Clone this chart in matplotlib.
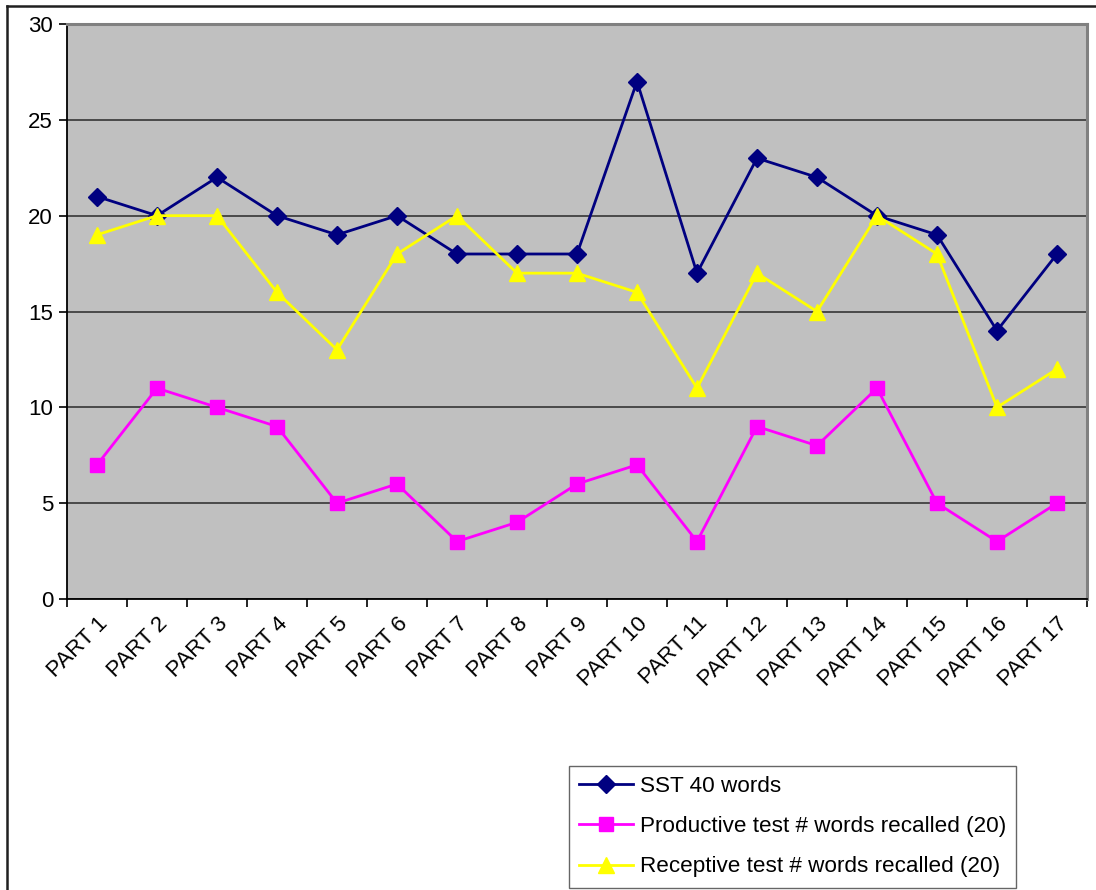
import matplotlib.pyplot as plt
from matplotlib.lines import Line2D

# Werte pro Teil
parts = [f"PART {i}" for i in range(1, 18)]
sst = [21, 20, 22, 20, 19, 20, 18, 18, 18, 27, 17, 23, 22, 20, 19, 14, 18]
productive = [7, 11, 10, 9, 5, 6, 3, 4, 6, 7, 3, 9, 8, 11, 5, 3, 5]
receptive = [19, 20, 20, 16, 13, 18, 20, 17, 17, 16, 11, 17, 15, 20, 18, 10, 12]

plt.rcParams['font.family'] = ['Liberation Sans', 'DejaVu Sans']

fig = plt.figure(figsize=(10.96, 8.90), dpi=100)
ax = fig.add_axes([67 / 1096, 1 - 599 / 890, (1087 - 67) / 1096, (599 - 24) / 890])
ax.set_facecolor('#C0C0C0')

x = list(range(len(parts)))
ax.plot(x, sst, color='#000080', lw=2.0, marker='D', ms=9, label='SST 40 words', zorder=3)
ax.plot(x, productive, color='#FF00FF', lw=2.0, marker='s', ms=10.5,
        label='Productive test # words recalled (20)', zorder=3)
ax.plot(x, receptive, color='#FFFF00', lw=2.0, marker='^', ms=11,
        label='Receptive test # words recalled (20)', zorder=3)

ax.set_xlim(-0.5, len(parts) - 0.5)
ax.set_ylim(0, 30)
ax.set_yticks(range(0, 31, 5))
ax.yaxis.grid(True, color='#404040', lw=1.3)
ax.set_axisbelow(True)

# Striche an den Grenzen, Beschriftung in der Mitte
ax.set_xticks([i - 0.5 for i in range(len(parts) + 1)])
ax.set_xticklabels([])
ax.set_xticks(x, minor=True)
ax.set_xticklabels(parts, minor=True, rotation=45, ha='right', rotation_mode='anchor', fontsize=16)
ax.tick_params(axis='x', which='minor', length=0, pad=10)
ax.tick_params(axis='x', which='major', length=6, width=1.2, direction='out')
ax.tick_params(axis='y', length=6, width=1.2, direction='out', labelsize=16, pad=4)

for side in ['left', 'bottom']:
    ax.spines[side].set_color('black')
    ax.spines[side].set_linewidth(1.3)
for side in ['top', 'right']:
    ax.spines[side].set_color('#808080')
    ax.spines[side].set_linewidth(2.2)

# Rahmen der Grafik (nur links und oben sichtbar)
fig.add_artist(Line2D([7 / 1096, 7 / 1096], [0, 1 - 6 / 890], transform=fig.transFigure,
                      color='#202020', lw=1.8))
fig.add_artist(Line2D([7 / 1096, 1], [1 - 6 / 890, 1 - 6 / 890], transform=fig.transFigure,
                      color='#202020', lw=1.8))

leg = ax.legend(loc='upper left', bbox_to_anchor=(569 / 1096, 1 - 766 / 890),
                bbox_transform=fig.transFigure, fontsize=16.2, frameon=True, fancybox=False,
                edgecolor='#404040', handlelength=2.4, handletextpad=0.3,
                borderpad=0.45, labelspacing=0.85, borderaxespad=0)
leg.get_frame().set_linewidth(1.0)

fig.savefig('out.png', dpi=100)
